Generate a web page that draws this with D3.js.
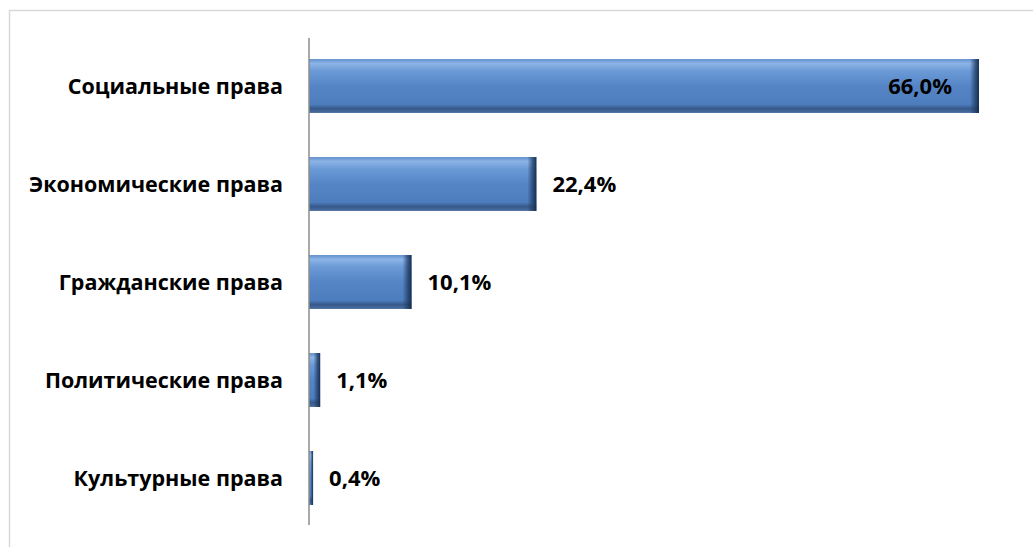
<!DOCTYPE html>
<html>
<head>
<meta charset="utf-8">
<script src="https://cdn.jsdelivr.net/npm/d3@7"></script>
<style>
	body { margin: 0; background: #fff; }
	svg { display: block; }
</style>
</head>
<body>
<div id="chart"></div>
<script>
const categories = ["Социальные права", "Экономические права", "Гражданские права", "Политические права", "Культурные права"];
const values = [66.0, 22.4, 10.1, 1.1, 0.4];
const valueLabels = ["66,0%", "22,4%", "10,1%", "1,1%", "0,4%"];

const width = 1033, height = 547;
const margin = {top: 37, right: 54, bottom: 20, left: 309};

const svg = d3.select("#chart").append("svg")
	.attr("width", width)
	.attr("height", height);

// chart area border (runs off the right/bottom edge)
svg.append("rect")
	.attr("x", 9.5).attr("y", 10.5)
	.attr("width", 1100).attr("height", 600)
	.attr("fill", "none")
	.attr("stroke", "#d9d9d9")
	.attr("stroke-width", 1.5);

const defs = svg.append("defs");
const vg = defs.append("linearGradient")
	.attr("id", "barFill")
	.attr("x1", 0).attr("y1", 0).attr("x2", 0).attr("y2", 1);
vg.append("stop").attr("offset", "0%").attr("stop-color", "#5f8fcc");
vg.append("stop").attr("offset", "8%").attr("stop-color", "#8db4e6");
vg.append("stop").attr("offset", "22%").attr("stop-color", "#6b9ad6");
vg.append("stop").attr("offset", "50%").attr("stop-color", "#5585c6");
vg.append("stop").attr("offset", "84%").attr("stop-color", "#4d7dbd");
vg.append("stop").attr("offset", "92%").attr("stop-color", "#36598a");
vg.append("stop").attr("offset", "100%").attr("stop-color", "#4a6f9f");

const hg = defs.append("linearGradient")
	.attr("id", "edgeFill")
	.attr("x1", 0).attr("y1", 0).attr("x2", 1).attr("y2", 0);
hg.append("stop").attr("offset", "0%").attr("stop-color", "#1f3b63").attr("stop-opacity", 0);
hg.append("stop").attr("offset", "60%").attr("stop-color", "#1f3b63").attr("stop-opacity", 0.75);
hg.append("stop").attr("offset", "100%").attr("stop-color", "#142a4a").attr("stop-opacity", 0.95);

const x = d3.scaleLinear()
	.domain([0, 66])
	.range([margin.left, 979]);

const y = d3.scaleBand()
	.domain(categories)
	.range([margin.top, height - margin.bottom])
	.paddingInner(0.45)
	.paddingOuter(0.225);

const data = categories.map((c, i) => ({name: c, value: values[i], label: valueLabels[i]}));

const bars = svg.append("g").selectAll("g")
	.data(data)
	.enter().append("g");

bars.append("rect")
	.attr("x", x(0))
	.attr("y", d => y(d.name))
	.attr("width", d => x(d.value) - x(0))
	.attr("height", y.bandwidth())
	.attr("fill", "url(#barFill)");

// darker bevel on the right end of each bar
bars.append("rect")
	.attr("x", d => x(d.value) - Math.min(9, (x(d.value) - x(0)) * 0.6))
	.attr("y", d => y(d.name))
	.attr("width", d => Math.min(9, (x(d.value) - x(0)) * 0.6))
	.attr("height", y.bandwidth())
	.attr("fill", "url(#edgeFill)");

// vertical axis line
svg.append("line")
	.attr("x1", x(0)).attr("x2", x(0))
	.attr("y1", 38).attr("y2", 525)
	.attr("stroke", "#8c8c8c")
	.attr("stroke-width", 1.5);

svg.append("g").selectAll("text")
	.data(data)
	.enter().append("text")
	.attr("x", 283)
	.attr("y", d => y(d.name) + y.bandwidth() / 2)
	.attr("dy", "0.35em")
	.attr("text-anchor", "end")
	.attr("font-family", "'Open Sans', 'Noto Sans', sans-serif")
	.attr("font-weight", "bold")
	.attr("font-size", "21.5px")
	.attr("fill", "#000")
	.text(d => d.name);

svg.append("g").selectAll("text")
	.data(data)
	.enter().append("text")
	.attr("x", d => d.value > 50 ? x(d.value) - 27 : x(d.value) + 16)
	.attr("y", d => y(d.name) + y.bandwidth() / 2)
	.attr("dy", "0.35em")
	.attr("text-anchor", d => d.value > 50 ? "end" : "start")
	.attr("font-family", "'Open Sans', 'Noto Sans', sans-serif")
	.attr("font-weight", "bold")
	.attr("font-size", "22px")
	.attr("fill", "#000")
	.text(d => d.label);
</script>
</body>
</html>
